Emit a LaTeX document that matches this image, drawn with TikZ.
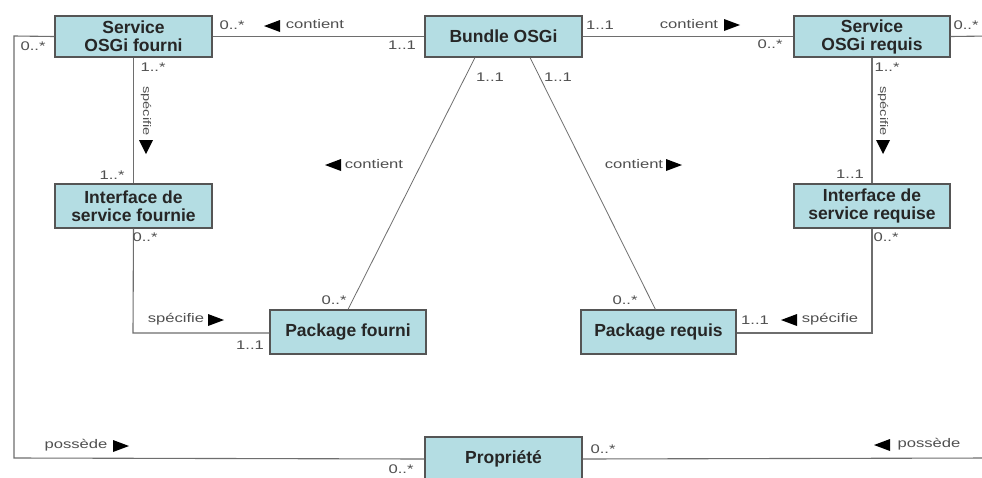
\documentclass[tikz,border=0pt]{standalone}
\usepackage{fontspec}
\setmainfont{Liberation Sans}
\newfontfamily\labfont[FakeStretch=1.33]{Liberation Sans}
\definecolor{boxblue}{RGB}{180,221,227}
\definecolor{edge}{RGB}{85,85,85}
\definecolor{lbl}{RGB}{80,80,80}
\begin{document}
\begin{tikzpicture}[x=1pt,y=-1pt,
  umlbox/.style={draw=edge,line width=1.1pt,fill=boxblue,align=center,inner sep=0pt,
    font=\fontsize{17.5}{18}\selectfont\bfseries,text=black!85},
  conn/.style={draw=edge!85,line width=1.1pt},
  diag/.style={draw=edge!85,line width=0.8pt},
  lab/.style={font=\labfont\fontsize{12.5}{14}\selectfont,text=lbl,inner sep=0pt},
  vlab/.style={font=\labfont\fontsize{11}{13}\selectfont,text=lbl,inner sep=0pt,rotate=-90},
  triL/.pic={\fill (-8,0) -- (8,-6) -- (8,6) -- cycle;},
  triR/.pic={\fill (8,0) -- (-8,-6) -- (-8,6) -- cycle;},
  triD/.pic={\fill (0,8) -- (-7,-6) -- (7,-6) -- cycle;}]
\useasboundingbox (0,0) rectangle (982,477);
\clip (0,0) rectangle (982,477);
\fill[white] (0,0) rectangle (982,477);
% boxes
\node[umlbox,minimum width=157pt,minimum height=41pt] (sf) at (133.5,36.5) {Service\\OSGi fourni};
\node[umlbox,minimum width=157pt,minimum height=41pt] (bundle) at (503.5,36.5) {Bundle OSGi};
\node[umlbox,minimum width=156pt,minimum height=41pt] (sr) at (872,36.5) {Service\\OSGi requis};
\node[umlbox,minimum width=157pt,minimum height=44pt] (isf) at (133.5,206) {Interface de\\service fournie};
\node[umlbox,minimum width=156pt,minimum height=44pt] (isr) at (872,206) {Interface de\\service requise};
\node[umlbox,minimum width=156pt,minimum height=44pt] (pf) at (348,332) {Package fourni};
\node[umlbox,minimum width=155pt,minimum height=44pt] (pr) at (658.5,332) {Package requis};
\node[umlbox,minimum width=157pt,minimum height=44pt] (prop) at (503.5,459) {Propriété};
% free ends
\coordinate (leftTop) at (14,36);
\coordinate (leftBot) at (14,458);
\coordinate (rightTop) at (990,36);
\coordinate (rightBot) at (990,458);
\coordinate (ifCorner) at (133,333);
\coordinate (irCorner) at (872,333);
% connectors
\draw[conn] (sf.east) -- (bundle.west);
\draw[conn] (bundle.east) -- (sr.west);
\draw[conn] (sf.west) -- (leftTop) -- (leftBot) -- (prop.west);
\draw[conn] (sr.east) -- (rightTop);
\draw[conn] (prop.east) -- (rightBot);
\draw[conn] (sf.south) -- (isf.north);
\draw[conn] (sr.south) -- (isr.north);
\draw[conn] (isf.south) -- (ifCorner) -- (pf.west |- ifCorner);
\draw[conn] (isr.south) -- (irCorner) -- (pr.east |- irCorner);
\draw[diag] ([xshift=-28.5pt]bundle.south) -- (pf.north);
\draw[diag] ([xshift=26.5pt]bundle.south) -- ([xshift=-3pt]pr.north);
% labels top
\node[lab] (m1) at (232,25) {0..*};
\pic at (272,26) {triL};
\node[lab] (l1) at (315,24) {contient};
\node[lab] (m2) at (402,45) {1..1};
\node[lab] (m3) at (600,25) {1..1};
\node[lab] (l2) at (689,24) {contient};
\pic at (732,25) {triR};
\node[lab] (m4) at (770,44) {0..*};
\node[lab] (m5) at (966,25) {0..*};
\node[lab] (m6) at (33,46) {0..*};
% left vertical
\node[lab] (m7) at (153,67) {1..*};
\node[vlab] (l3) at (146,111) {spécifie};
\pic at (146,146) {triD};
\node[lab] (m8) at (112,175) {1..*};
\node[lab] (m9) at (145,237) {0..*};
\node[lab] (l4) at (176,319) {spécifie};
\pic at (216,320) {triR};
\node[lab] (m10) at (250,345) {1..1};
% right vertical
\node[lab] (m11) at (887,67) {1..*};
\node[vlab] (l5) at (883,111) {spécifie};
\pic at (883,146) {triD};
\node[lab] (m12) at (850,174) {1..1};
\node[lab] (m13) at (886,237) {0..*};
\node[lab] (m14) at (755,320) {1..1};
\pic at (789,320) {triL};
\node[lab] (l6) at (830,319) {spécifie};
% bundle diagonals
\node[lab] (m15) at (490,77) {1..1};
\node[lab] (m16) at (558,77) {1..1};
\pic at (333,165) {triL};
\node[lab] (l7) at (374,164) {contient};
\node[lab] (l8) at (634,164) {contient};
\pic at (674,165) {triR};
\node[lab] (m17) at (334,300) {0..*};
\node[lab] (m18) at (625,300) {0..*};
% bottom
\node[lab] (l9) at (76,445) {possède};
\pic at (121,446) {triR};
\node[lab] (m19) at (401,469) {0..*};
\node[lab] (m20) at (603,449) {0..*};
\pic at (882,445) {triL};
\node[lab] (l10) at (929,444) {possède};
\end{tikzpicture}
\end{document}
